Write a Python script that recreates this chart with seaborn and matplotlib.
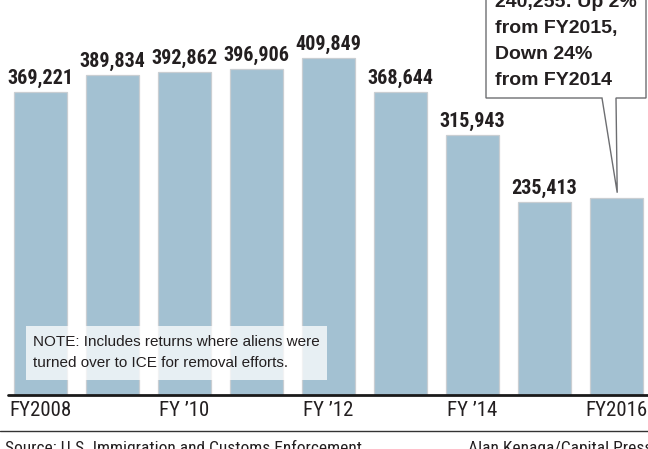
import matplotlib
matplotlib.use("Agg")
import matplotlib.pyplot as plt
import seaborn as sns
import pandas as pd
from matplotlib.patches import Rectangle, Polygon
from matplotlib.lines import Line2D

# Data
years = ["FY2008", "FY2009", "FY2010", "FY2011", "FY2012",
         "FY2013", "FY2014", "FY2015", "FY2016"]
returns = [369221, 389834, 392862, 396906, 409849, 368644, 315943, 235413, 240255]
tick_pos = [0, 2, 4, 6, 8]
tick_labels = ["FY2008", "FY \u201910", "FY \u201912", "FY \u201914", "FY2016"]
callout_lines = ["240,255: Up 2%", "from FY2015,", "Down 24%", "from FY2014"]
note_lines = ["NOTE: Includes returns where aliens were",
              "turned over to ICE for removal efforts."]
source_text = "Source: U.S. Immigration and Customs Enforcement"
credit_text = "Alan Kenaga/Capital Press"

sns.set_theme(style="white")
NARROW = ["Roboto Condensed", "DejaVu Sans"]
REG = ["Liberation Sans", "DejaVu Sans"]
plt.rcParams["font.family"] = REG
INK = "#231f20"

W, H = 648, 449


def fx(x):
    return x / W


def fy(y):
    # y measured from the top in pixels
    return 1 - y / H


fig = plt.figure(figsize=(6.48, 4.49), dpi=100)
base = 395.2
ax = fig.add_axes([0, (H - base) / H, 1, base / H])

df = pd.DataFrame({"year": years, "returns": returns})
sns.barplot(data=df, x="year", y="returns", color="#a3c1d2", saturation=1,
            width=0.736, edgecolor="#c9ced2", linewidth=0.9, ax=ax)

labels = [f"{v:,}" for v in returns[:-1]] + [""]
ax.bar_label(ax.containers[0], labels=labels, padding=3, fontsize=14.5,
             fontweight="bold", family=NARROW, color=INK)

ax.set_xlim(-0.5625, 8.4375)
ax.set_ylim(0, base / 0.000822)
for s in ax.spines.values():
    s.set_visible(False)
ax.set_yticks([])
ax.set_xticks(tick_pos)
ax.set_xticklabels(tick_labels, fontsize=15, family=NARROW, color=INK)
ax.tick_params(axis="x", length=0, pad=4.5)
ax.set_xlabel("")
ax.set_ylabel("")
ax.axhline(0, xmin=8 / W, xmax=1, color="#1a1a1a", lw=2, clip_on=False, zorder=5)

# note box
fig.add_artist(Rectangle((fx(26), fy(380)), fx(301), 54 / H,
                         transform=fig.transFigure, fc="white", alpha=0.75,
                         ec="none", zorder=3))
for i, line in enumerate(note_lines):
    fig.text(fx(33), fy(342 + 21 * i), line, va="center", ha="left",
             fontsize=11, color=INK, zorder=4)

# callout box with pointer to last bar
tip = ax.transData.transform((8.01, returns[-1]))
tip_x, tip_y = tip[0], H - tip[1] - 5
verts = [(486, -10), (646, -10), (646, 98), (616, 98), (tip_x, tip_y),
         (602, 98), (486, 98)]
fig.add_artist(Polygon([(fx(x), fy(y)) for x, y in verts], closed=True,
                       transform=fig.transFigure, fc="white", ec="#6d6e71",
                       lw=1, zorder=3))
for i, line in enumerate(callout_lines):
    fig.text(fx(495), fy(7 + 26 * i), line, va="baseline", ha="left",
             fontsize=14, fontweight="bold", color=INK, zorder=4)

# footer
fig.add_artist(Line2D([0, 1], [fy(431), fy(431)], transform=fig.transFigure,
                      color="#333333", lw=1))
fig.text(fx(5), fy(453), source_text, va="baseline", ha="left",
         fontsize=12.5, family=NARROW, color=INK)
fig.text(fx(652), fy(453), credit_text, va="baseline", ha="right",
         fontsize=12.5, family=NARROW, color=INK)

fig.savefig("out.png", dpi=100)
